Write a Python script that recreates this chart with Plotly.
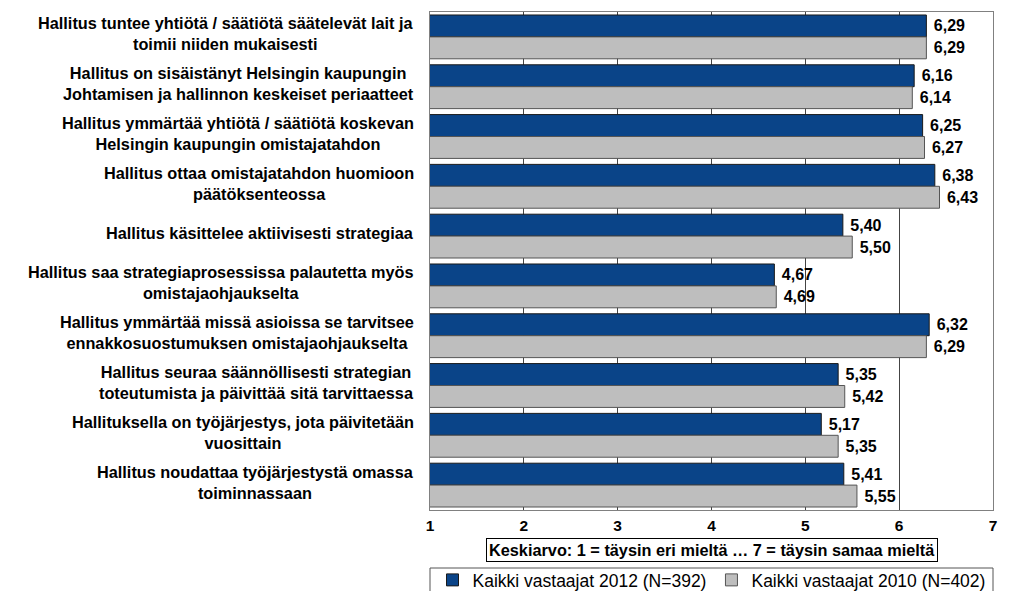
import plotly.graph_objects as go

categories = [
    "Hallitus tuntee yhtiötä / säätiötä säätelevät lait ja<br>toimii niiden mukaisesti",
    "Hallitus on sisäistänyt Helsingin kaupungin<br>Johtamisen ja hallinnon keskeiset periaatteet",
    "Hallitus ymmärtää yhtiötä / säätiötä koskevan<br>Helsingin kaupungin omistajatahdon",
    "Hallitus ottaa omistajatahdon huomioon<br>päätöksenteossa",
    "Hallitus käsittelee aktiivisesti strategiaa",
    "Hallitus saa strategiaprosessissa palautetta myös<br>omistajaohjaukselta",
    "Hallitus ymmärtää missä asioissa se tarvitsee<br>ennakkosuostumuksen omistajaohjaukselta",
    "Hallitus seuraa säännöllisesti strategian<br>toteutumista ja päivittää sitä tarvittaessa",
    "Hallituksella on työjärjestys, jota päivitetään<br>vuosittain",
    "Hallitus noudattaa työjärjestystä omassa<br>toiminnassaan",
]
values_2012 = [6.29, 6.16, 6.25, 6.38, 5.40, 4.67, 6.32, 5.35, 5.17, 5.41]
values_2010 = [6.29, 6.14, 6.27, 6.43, 5.50, 4.69, 6.29, 5.42, 5.35, 5.55]
name_2012 = "Kaikki vastaajat 2012 (N=392)"
name_2010 = "Kaikki vastaajat 2010 (N=402)"
tick_vals = [1, 2, 3, 4, 5, 6, 7]
axis_title = "Keskiarvo: 1 = täysin eri mieltä … 7 = täysin samaa mieltä"

FONT = "Arial, Liberation Sans, sans-serif"


def fmt(v):
    return "<b>\u00a0" + f"{v:.2f}".replace(".", ",") + "</b>"


fig = go.Figure()
fig.add_trace(go.Bar(
    y=categories, x=values_2012, orientation="h", name=name_2012,
    marker=dict(color="#0A4488", line=dict(color="#1a1a1a", width=1)),
    text=[fmt(v) for v in values_2012], textposition="outside",
    textfont=dict(family=FONT, size=16, color="black"),
    cliponaxis=False,
))
fig.add_trace(go.Bar(
    y=categories, x=values_2010, orientation="h", name=name_2010,
    marker=dict(color="#BEBEBE", line=dict(color="#555555", width=1)),
    text=[fmt(v) for v in values_2010], textposition="outside",
    textfont=dict(family=FONT, size=16, color="black"),
    cliponaxis=False,
))

for c in categories:
    fig.add_annotation(
        x=0, xref="paper", xanchor="right", xshift=-14,
        y=c, yref="y", yshift=3, yanchor="middle",
        text="<b>" + c.replace("<br>", "</b><br><b>") + "</b>",
        showarrow=False, align="center",
        font=dict(family=FONT, size=16.3, color="black"),
    )

fig.add_annotation(
    x=0.5, xref="paper", xanchor="center",
    y=(510 - 550) / 498, yref="paper", yanchor="middle",
    text="<b>" + axis_title + "</b>", showarrow=False,
    font=dict(family=FONT, size=16.3, color="black"),
    bordercolor="black", borderwidth=1, borderpad=2, bgcolor="white",
)

fig.add_shape(type="rect", xref="paper", yref="paper",
              x0=0, x1=1, y0=(510 - 568) / 498, y1=(510 - 596) / 498,
              line=dict(color="#555555", width=1), fillcolor="rgba(0,0,0,0)")

fig.update_layout(
    width=1024, height=591,
    margin=dict(l=430, r=31, t=12, b=81, autoexpand=False),
    paper_bgcolor="white", plot_bgcolor="white",
    barmode="group", bargap=0.12, bargroupgap=0,
    font=dict(family=FONT, color="black"),
    showlegend=True,
    legend=dict(orientation="h", x=0.5, xanchor="center",
                y=(591 - 580) / 591, yref="container", yanchor="middle",
                font=dict(family=FONT, size=17.5, color="black"),
                itemwidth=30, bgcolor="rgba(0,0,0,0)", traceorder="normal"),
    xaxis=dict(range=[1, 7], tickvals=tick_vals, ticktext=["<b>%d</b>" % t for t in tick_vals],
               showgrid=True, gridcolor="#444444", gridwidth=1,
               showline=True, linecolor="#808080", linewidth=1, mirror=True,
               ticks="", ticklabelstandoff=1,
               tickfont=dict(family=FONT, size=15.5, color="black"),
               zeroline=False, fixedrange=True),
    yaxis=dict(autorange="reversed", showticklabels=False, showgrid=False,
               showline=True, linecolor="#808080", linewidth=1, mirror=True,
               ticks=""),
)

fig.write_html("out.html")
